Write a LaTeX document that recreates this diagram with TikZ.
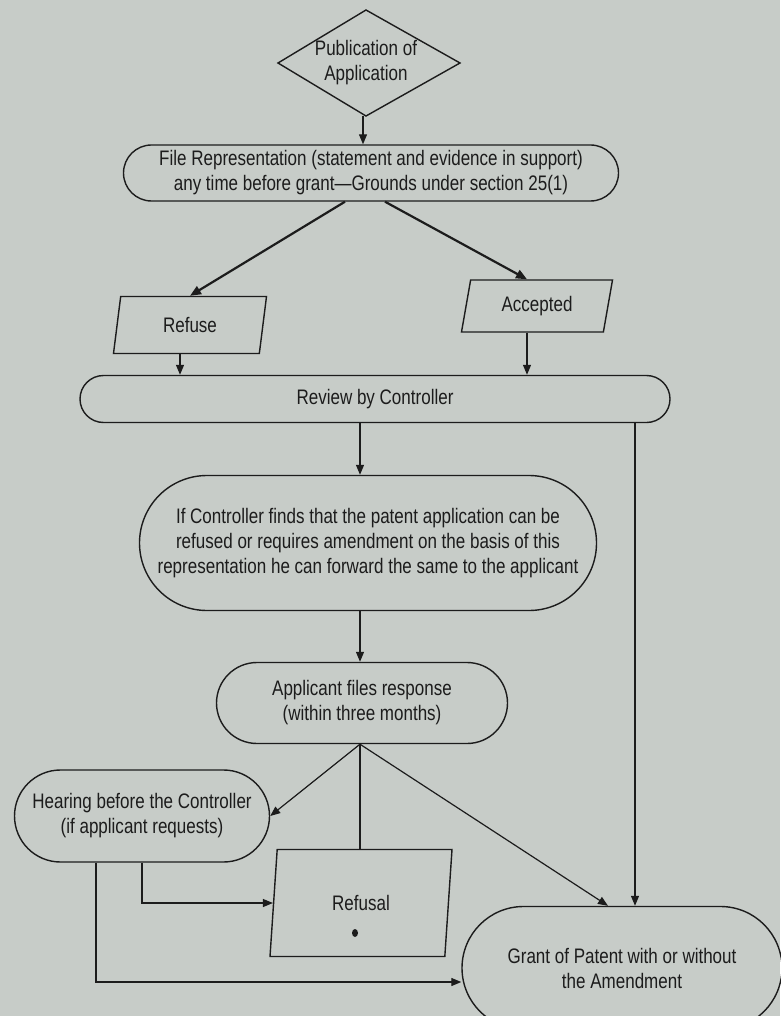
\documentclass[tikz,border=0pt]{standalone}
\usepackage{fontspec}
\setmainfont{Liberation Sans}[FakeStretch=0.81]
\usetikzlibrary{shapes.geometric,shapes.misc,arrows.meta,calc}
\definecolor{bg}{RGB}{199,204,200}
\definecolor{ink}{RGB}{28,28,28}
\begin{document}
\begin{tikzpicture}[x=1pt,y=-1pt,
  txt/.style={align=center, text=ink, inner sep=0pt, font=\fontsize{21}{25}\selectfont},
  box/.style={txt, draw=ink, line width=1.4pt},
  stad/.style={box, rounded rectangle},
  para/.style={box, trapezium, trapezium left angle=65, trapezium right angle=115,
               trapezium stretches body},
  arr/.style={draw=ink, line width=1.2pt, -{Triangle[length=10pt,width=8pt]}},
  thickarr/.style={draw=ink, line width=2.2pt, -{Triangle[length=11pt,width=9pt]}},
  ln/.style={draw=ink, line width=1.2pt}]
\fill[bg] (0,0) rectangle (780,1016);
\useasboundingbox (0,0) rectangle (780,1016);

% diamond
\node[txt] (pub) at (366,63) {Publication of\\Application};
\coordinate (pubt) at ([yshift=53pt]pub.center);
\coordinate (pubb) at ([yshift=-53pt]pub.center);
\coordinate (publ) at ([xshift=-88pt]pub.center);
\coordinate (pubr) at ([xshift=94pt]pub.center);
\draw[ink, line width=1.4pt] (pubt) -- (pubr) -- (pubb) -- (publ) -- cycle;

\node[stad, minimum width=495pt, minimum height=56pt] (file) at (371,173)
  {File Representation (statement and evidence in support)\\any time before grant—Grounds under section 25(1)};
\node[para, minimum width=153pt, minimum height=57pt] (refuse) at (190,325) {Refuse};
\node[para, minimum width=151pt, minimum height=52pt] (acc) at (537,306) {Accepted};
\node[stad, minimum width=590pt, minimum height=47pt] (review) at (375,399) {Review by Controller};
\node[stad, minimum width=457pt, minimum height=135pt] (ifc) at (368,543)
  {If Controller finds that the patent application can be\\refused or requires amendment on the basis of this\\representation he can forward the same to the applicant};
\node[stad, minimum width=291pt, minimum height=81pt] (appl) at (362,703) {Applicant files response\\(within three months)};
\node[stad, minimum width=255pt, minimum height=92pt] (hear) at (142,816) {Hearing before the Controller\\(if applicant requests)};
\node[para, minimum width=182pt, minimum height=107pt] (refusal) at (361,903) {Refusal};
\node[stad, minimum width=320pt, minimum height=123pt] (grant) at (622,968) {Grant of Patent with or without\\the Amendment};

\fill[ink] (355,933) ellipse (3pt and 4pt);

\draw[arr] ([xshift=-3pt]pubb) -- ([xshift=-3pt]pubb |- file.north);
\draw[thickarr] ([xshift=-26pt]file.south) -- (refuse.north);
\draw[thickarr] ([xshift=14pt]file.south) -- ([xshift=-10pt]acc.north);
\draw[arr] ([xshift=-10pt]refuse.south) -- ([xshift=-10pt]refuse.south |- review.north);
\draw[arr] ([xshift=-10pt]acc.south) -- ([xshift=-10pt]acc.south |- review.north);
\draw[arr] ([xshift=-15pt]review.south) -- ([xshift=-15pt]review.south |- ifc.north);
\draw[arr] ([xshift=13pt]grant.north |- review.south) -- ([xshift=13pt]grant.north);
\draw[arr] ([xshift=-8pt]ifc.south) -- ([xshift=-8pt]ifc.south |- appl.north);
\coordinate (ab) at ([xshift=-2pt]appl.south);
\draw[arr] (ab) -- (hear.east);
\draw[ln] (ab) -- (ab |- refusal.north);
\draw[arr] (ab) -- ([xshift=-14pt]grant.north);
\draw[arr] (hear.south) |- (refusal.west);
\draw[arr] ([xshift=-46pt]hear.south) |- ([yshift=-14pt]grant.west);
\end{tikzpicture}
\end{document}
